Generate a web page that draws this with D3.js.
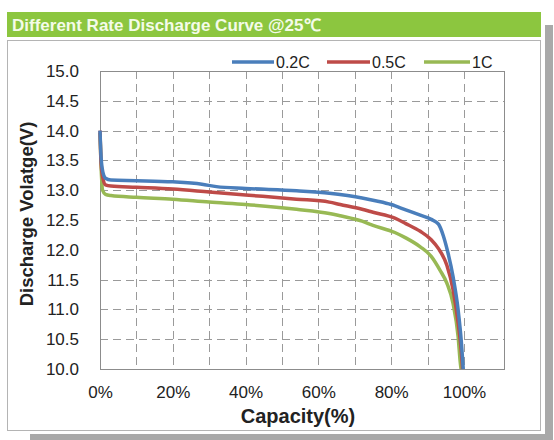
<!DOCTYPE html>
<html>
<head>
<meta charset="utf-8">
<script src="https://cdn.jsdelivr.net/npm/d3@7"></script>
<style>
	html, body { margin: 0; padding: 0; background: #ffffff; }
	svg { display: block; font-family: "Liberation Sans", Arial, sans-serif; }
</style>
</head>
<body>
<svg width="554" height="440"></svg>
<script>
// Data (capacity in %, voltage in V)
const series_names = ["0.2C", "0.5C", "1C"];
const series_colors = ["#4a7ebb", "#be4b48", "#98b954"];

const cap_02c = [0, 0.3, 0.8, 1.5, 3, 10, 20, 28, 32, 40, 54, 63, 68, 72, 76, 80, 84, 88, 91, 93, 94.3, 95.6, 97, 98.4, 99.3, 99.8];
const volt_02c = [14.0, 13.55, 13.3, 13.2, 13.17, 13.16, 13.14, 13.10, 13.06, 13.03, 12.99, 12.95, 12.91, 12.87, 12.82, 12.76, 12.67, 12.58, 12.51, 12.43, 12.24, 11.95, 11.55, 10.99, 10.44, 10.0];

const cap_05c = [0, 0.3, 0.8, 1.5, 3, 10, 20, 30, 40, 54, 63, 66, 72, 75, 81, 84, 88, 91, 93, 95.3, 97, 98.4, 99.3, 99.6];
const volt_05c = [14.0, 13.45, 13.2, 13.09, 13.07, 13.05, 13.02, 12.97, 12.92, 12.85, 12.80, 12.76, 12.68, 12.63, 12.53, 12.44, 12.31, 12.17, 12.02, 11.74, 11.33, 10.77, 10.27, 10.0];

const cap_1c = [0, 0.3, 0.7, 1.5, 3, 10, 20, 30, 40, 54, 63, 66, 72, 75, 81, 84, 88, 91, 93.4, 95.3, 97, 98.4, 99, 99.2];
const volt_1c = [13.96, 13.4, 13.0, 12.93, 12.91, 12.88, 12.85, 12.80, 12.76, 12.68, 12.61, 12.57, 12.48, 12.41, 12.29, 12.20, 12.05, 11.89, 11.66, 11.44, 11.1, 10.54, 10.1, 10.0];

const x_ticks = [0, 20, 40, 60, 80, 100];
const x_grid = [10, 20, 30, 40, 50, 60, 70, 80, 90, 100];
const y_ticks = [10, 10.5, 11, 11.5, 12, 12.5, 13, 13.5, 14, 14.5, 15];

const title_text = "Different Rate Discharge Curve @25\u2103";
const x_title = "Capacity(%)";
const y_title = "Discharge Volatge(V)";

// Variable Declarations
const svg = d3.select("svg");
const plot_left = 100, plot_right = 504, plot_top = 71, plot_bottom = 369;

const x = d3.scaleLinear().domain([0, 111]).range([plot_left, plot_right]);
const y = d3.scaleLinear().domain([10, 15]).range([plot_bottom, plot_top]);

draw_frame();
draw_grid();
draw_axes();
draw_lines();
draw_legend();

/**
 * Draw the shadow, the green title bar and the white panel
 */
function draw_frame(){
	svg.append("rect").attr("x", 545).attr("y", 25).attr("width", 8).attr("height", 415).attr("fill", "#a9a9a9");
	svg.append("rect").attr("x", 30).attr("y", 434).attr("width", 523).attr("height", 6).attr("fill", "#a9a9a9");

	svg.append("rect")
	   .attr("x", 7.5).attr("y", 40.5)
	   .attr("width", 533).attr("height", 390)
	   .attr("fill", "#ffffff")
	   .attr("stroke", "#b4b4b4");

	svg.append("rect")
	   .attr("x", 7).attr("y", 12)
	   .attr("width", 534).attr("height", 25)
	   .attr("fill", "#8cc63f");

	svg.append("text")
	   .attr("x", 12).attr("y", 30.5)
	   .attr("font-size", 17).attr("font-weight", "bold")
	   .attr("fill", "#f4fbe9")
	   .text(title_text);
}

/**
 * Dashed grid lines inside the plot area plus the plot border
 */
function draw_grid(){
	const grid = svg.append("g").attr("stroke", "#9a9a9a").attr("stroke-width", 1).attr("stroke-dasharray", "8,5");

	grid.selectAll("line.vx")
	    .data(x_grid)
	    .enter()
	    .append("line")
	    .attr("class", "vx")
	    .attr("x1", d => Math.round(x(d)) + 0.5).attr("x2", d => Math.round(x(d)) + 0.5)
	    .attr("y1", plot_top).attr("y2", plot_bottom);

	grid.selectAll("line.hy")
	    .data(y_ticks.filter(d => d > 10 && d < 15))
	    .enter()
	    .append("line")
	    .attr("class", "hy")
	    .attr("x1", plot_left).attr("x2", plot_right)
	    .attr("y1", d => Math.round(y(d)) + 0.5).attr("y2", d => Math.round(y(d)) + 0.5);

	svg.append("rect")
	   .attr("x", plot_left + 0.5).attr("y", plot_top + 0.5)
	   .attr("width", plot_right - plot_left).attr("height", plot_bottom - plot_top)
	   .attr("fill", "none").attr("stroke", "#8c8c8c");
}

/**
 * Tick labels and axis titles
 */
function draw_axes(){
	const x_axis = d3.axisBottom(x).tickValues(x_ticks).tickSize(0).tickPadding(17).tickFormat(d => d + "%");
	const y_axis = d3.axisLeft(y).tickValues(y_ticks).tickSize(0).tickPadding(21).tickFormat(d3.format(".1f"));

	svg.append("g")
	   .attr("transform", `translate(0,${plot_bottom})`)
	   .call(x_axis)
	   .call(g => g.select(".domain").remove())
	   .selectAll("text")
	   .attr("font-size", 17).attr("fill", "#222").attr("font-family", "Liberation Sans, Arial, sans-serif");

	svg.append("g")
	   .attr("transform", `translate(${plot_left},0)`)
	   .call(y_axis)
	   .call(g => g.select(".domain").remove())
	   .selectAll("text")
	   .attr("font-size", 17).attr("fill", "#222").attr("font-family", "Liberation Sans, Arial, sans-serif");

	svg.append("text")
	   .attr("x", 298).attr("y", 423)
	   .attr("text-anchor", "middle")
	   .attr("font-size", 20).attr("font-weight", "bold").attr("fill", "#222")
	   .text(x_title);

	svg.append("text")
	   .attr("transform", "translate(33,214) rotate(-90)")
	   .attr("text-anchor", "middle")
	   .attr("font-size", 18.5).attr("font-weight", "bold").attr("fill", "#222")
	   .text(y_title);
}

/**
 * Draw the three discharge curves
 */
function draw_lines(){
	const all_series = [
		{name: series_names[0], color: series_colors[0], values: d3.zip(cap_02c, volt_02c)},
		{name: series_names[1], color: series_colors[1], values: d3.zip(cap_05c, volt_05c)},
		{name: series_names[2], color: series_colors[2], values: d3.zip(cap_1c, volt_1c)}
	];

	const line = d3.line()
	               .x(d => x(d[0]))
	               .y(d => y(d[1]))
	               .curve(d3.curveMonotoneX);

	svg.append("g")
	   .selectAll("path")
	   .data(all_series.slice().reverse())
	   .enter()
	   .append("path")
	   .attr("d", d => line(d.values))
	   .attr("fill", "none")
	   .attr("stroke", d => d.color)
	   .attr("stroke-width", 3.5)
	   .attr("stroke-linejoin", "round");
}

/**
 * Legend row above the plot
 */
function draw_legend(){
	const legend_x = [232, 327, 424];
	const legend_len = [42, 43, 46];
	const item = svg.append("g")
	                .selectAll("g")
	                .data(series_names)
	                .enter()
	                .append("g")
	                .attr("transform", (d, i) => `translate(${legend_x[i]},62)`);

	item.append("line")
	    .attr("x1", 0).attr("x2", (d, i) => legend_len[i])
	    .attr("y1", 0).attr("y2", 0)
	    .attr("stroke", (d, i) => series_colors[i])
	    .attr("stroke-width", 3.5);

	item.append("text")
	    .attr("x", (d, i) => legend_len[i] + 2)
	    .attr("y", 6)
	    .attr("font-size", 16).attr("fill", "#222")
	    .text(d => d);
}
</script>
</body>
</html>
